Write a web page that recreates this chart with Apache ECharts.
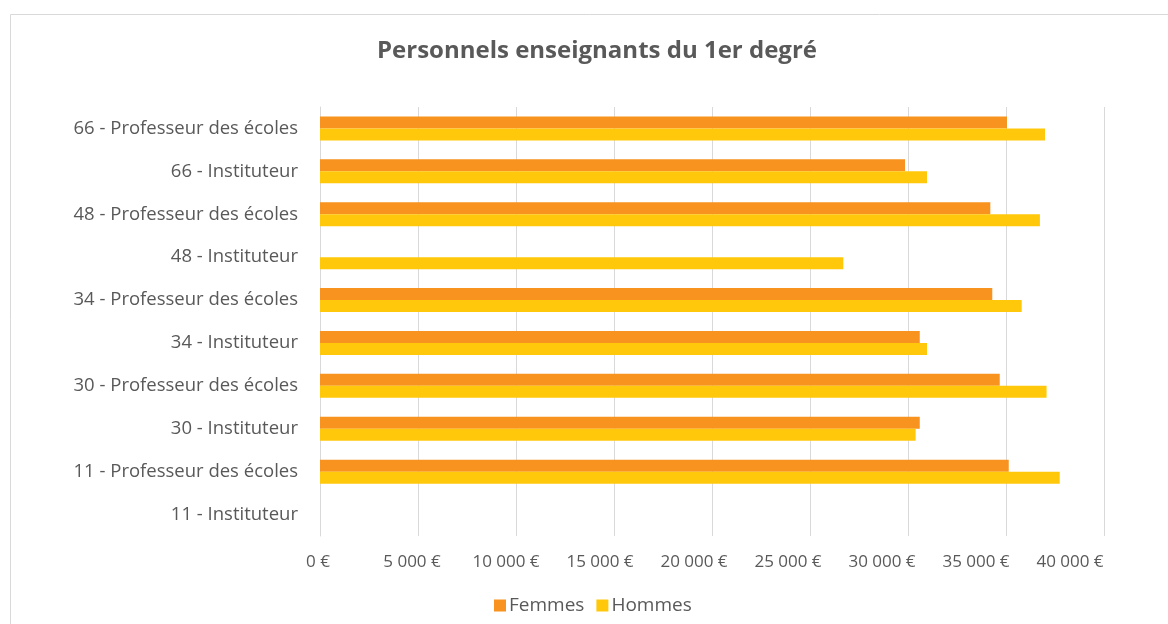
<!DOCTYPE html>
<html>
<head>
<meta charset="utf-8">
<script src="https://cdn.jsdelivr.net/npm/echarts@6/dist/echarts.min.js"></script>
<style>
  html, body { margin: 0; padding: 0; background: #fff; }
  #chart { width: 1168px; height: 624px; }
</style>
</head>
<body>
<div id="chart"></div>
<script>
// bottom-to-top, as in the source sheet
const categories = [
  "11 - Instituteur",
  "11 - Professeur des écoles",
  "30 - Instituteur",
  "30 - Professeur des écoles",
  "34 - Instituteur",
  "34 - Professeur des écoles",
  "48 - Instituteur",
  "48 - Professeur des écoles",
  "66 - Instituteur",
  "66 - Professeur des écoles",
];
const femmes = [null, 35140, 30600, 34680, 30600, 34300, null, 34200, 29850, 35050];
const hommes = [null, 37740, 30390, 37070, 30970, 35800, 26700, 36730, 30970, 36990];
const xTicks = { min: 0, max: 40000, interval: 5000 };

const FONT = "'Open Sans', 'Liberation Sans', sans-serif";
const GREY = "#595959";

function euro(v) {
  return String(v).replace(/\B(?=(\d{3})+(?!\d))/g, " ") + " €";
}

// Excel draws the tick labels slightly drifted to the left as values grow
const labelRich = {};
for (let v = xTicks.min; v <= xTicks.max; v += xTicks.interval) {
  const shift = Math.round(2 + v * 0.0008);
  labelRich["t" + v] = { color: GREY, fontSize: 17, fontFamily: FONT, padding: [0, shift * 2, 0, 0] };
}

const chart = echarts.init(document.getElementById("chart"), null, { renderer: "canvas" });

chart.setOption({
  animation: false,
  color: ["#F7931E", "#FFC80A"],
  textStyle: { fontFamily: FONT },
  title: {
    text: "Personnels enseignants du 1er degré",
    left: 372,
    top: 34,
    textStyle: { fontFamily: FONT, fontSize: 24, fontWeight: "bold", color: GREY },
  },
  graphic: [
    {
      type: "rect",
      shape: { x: 10.5, y: 14.5, width: 1200, height: 700 },
      style: { fill: null, stroke: "#D9D9D9", lineWidth: 1 },
      silent: true,
    },
  ],
  legend: {
    bottom: 4,
    left: 489,
    icon: "rect",
    itemWidth: 12,
    itemHeight: 12,
    itemGap: 12,
    textStyle: { fontFamily: FONT, fontSize: 19, color: GREY, padding: [0, 0, 0, -2] },
    data: ["Femmes", "Hommes"],
  },
  grid: { left: 320, right: 64, top: 107, bottom: 88, containLabel: false },
  xAxis: {
    type: "value",
    min: xTicks.min,
    max: xTicks.max,
    interval: xTicks.interval,
    axisLine: { show: false },
    axisTick: { show: false },
    axisLabel: {
      margin: 18,
      formatter: (v) => "{t" + v + "|" + euro(v) + "}",
      rich: labelRich,
    },
    splitLine: { lineStyle: { color: "#D9D9D9", width: 1 } },
  },
  yAxis: {
    type: "category",
    data: categories,
    axisLine: { lineStyle: { color: "#D9D9D9" } },
    axisTick: { show: false },
    axisLabel: { fontFamily: FONT, color: GREY, fontSize: 18.5, margin: 22 },
  },
  series: [
    {
      name: "Femmes",
      type: "bar",
      data: femmes,
      barGap: "0%",
      barCategoryGap: "44%",
    },
    {
      name: "Hommes",
      type: "bar",
      data: hommes,
      barGap: "0%",
      barCategoryGap: "44%",
    },
  ],
});
</script>
</body>
</html>
